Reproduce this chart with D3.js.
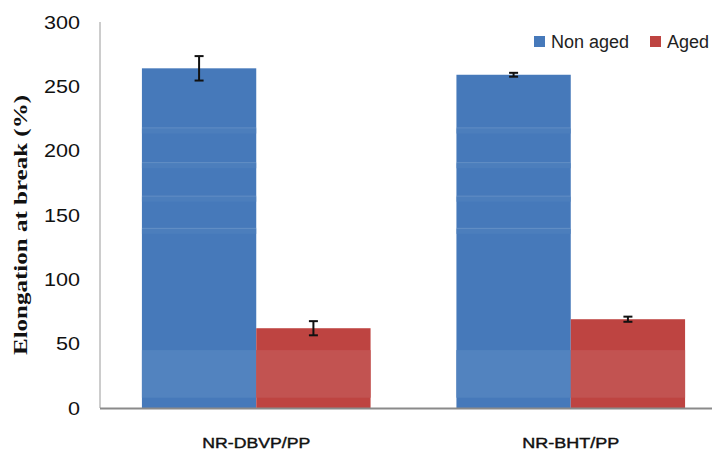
<!DOCTYPE html>
<html lang="en">
<head>
  <meta charset="UTF-8">
  <title>Elongation at break</title>
  <script src="https://d3js.org/d3.v7.min.js"></script>
  <style>
    body { margin: 0; background: #fff; }
    .tick-label { font-family: "Liberation Sans", Arial, sans-serif; font-size: 18px; fill: #111; }
    .legend-label { font-family: "Liberation Sans", Arial, sans-serif; font-size: 18px; fill: #222; }
    .cat-label { font-family: "Liberation Sans", Arial, sans-serif; font-size: 14px; fill: #111; stroke: #111; stroke-width: 0.4; }
    .axis-title { font-family: "Liberation Serif", "Times New Roman", serif; font-size: 18px; font-weight: bold; fill: #111; }
  </style>
</head>
<body>
  <svg width="712" height="454"></svg>

  <script>
    // data
    const samples = ["NR-DBVP/PP", "NR-BHT/PP"];
    const series = ["Non aged", "Aged"];
    const nonAged = [264, 259];
    const nonAgedErr = [9.5, 1.5];
    const aged = [62, 69];
    const agedErr = [5.5, 2];
    const yTicks = [0, 50, 100, 150, 200, 250, 300];

    const colors = {"Non aged": "#4679ba", "Aged": "#be4441"};
    const bandColors = {"Non aged": "#5283bf", "Aged": "#c25351"};

    const rows = [];
    samples.forEach((s, i) => {
      rows.push({sample: s, series: "Non aged", value: nonAged[i], err: nonAgedErr[i]});
      rows.push({sample: s, series: "Aged", value: aged[i], err: agedErr[i]});
    });

    const svg = d3.select("svg");

    const y = d3.scaleLinear().domain([0, 300]).range([408, 22]);

    const x0 = d3.scaleBand()
      .domain(samples)
      .range([100, 727])
      .paddingInner(0.273)
      .paddingOuter(0.1333);

    const x1 = d3.scaleBand()
      .domain(series)
      .range([0, x0.bandwidth()]);

    // bars
    const bars = svg.append("g");
    bars.selectAll("rect.bar")
      .data(rows)
      .join("rect")
      .attr("class", "bar")
      .attr("x", d => x0(d.sample) + x1(d.series))
      .attr("y", d => y(d.value))
      .attr("width", x1.bandwidth())
      .attr("height", d => y(0) - y(d.value))
      .attr("fill", d => colors[d.series]);

    // lighter band near the bottom of every bar
    bars.selectAll("rect.band")
      .data(rows)
      .join("rect")
      .attr("class", "band")
      .attr("x", d => x0(d.sample) + x1(d.series))
      .attr("y", y(45))
      .attr("width", x1.bandwidth())
      .attr("height", y(8) - y(45))
      .attr("fill", d => bandColors[d.series]);

    // faint stripes in the tall bars
    const stripes = [218, 191, 165, 140];
    rows.filter(d => d.series === "Non aged").forEach(d => {
      stripes.forEach(v => {
        bars.append("rect")
          .attr("x", x0(d.sample) + x1(d.series))
          .attr("y", y(v))
          .attr("width", x1.bandwidth())
          .attr("height", 1)
          .attr("fill", "#7ea3cf")
          .attr("opacity", 0.6);
        bars.append("rect")
          .attr("x", x0(d.sample) + x1(d.series))
          .attr("y", y(v) + 1)
          .attr("width", x1.bandwidth())
          .attr("height", 5)
          .attr("fill", "#4f80bd")
          .attr("opacity", 0.7);
      });
    });

    // error bars
    const eb = svg.append("g").attr("stroke", "#111").attr("stroke-width", 2);
    rows.forEach(d => {
      const cx = x0(d.sample) + x1(d.series) + x1.bandwidth() / 2;
      eb.append("line")
        .attr("x1", cx).attr("x2", cx)
        .attr("y1", y(d.value + d.err)).attr("y2", y(d.value - d.err));
      [d.value + d.err, d.value - d.err].forEach(v => {
        eb.append("line")
          .attr("x1", cx - 4.5).attr("x2", cx + 4.5)
          .attr("y1", y(v)).attr("y2", y(v));
      });
    });

    // axes
    svg.append("line")
      .attr("x1", 100).attr("x2", 100)
      .attr("y1", y(300)).attr("y2", y(0))
      .attr("stroke", "#9a9a9a").attr("stroke-width", 1);
    svg.append("line")
      .attr("x1", 100).attr("x2", 712)
      .attr("y1", y(0) + 0.5).attr("y2", y(0) + 0.5)
      .attr("stroke", "#8a8a8a").attr("stroke-width", 2);

    svg.append("g")
      .selectAll("text")
      .data(yTicks)
      .join("text")
      .attr("class", "tick-label")
      .attr("x", 80)
      .attr("y", d => y(d) + 6.5)
      .attr("text-anchor", "end")
      .attr("textLength", d => String(d).length * 12)
      .attr("lengthAdjust", "spacingAndGlyphs")
      .text(d => d);

    const labelWidth = {"NR-DBVP/PP": 108, "NR-BHT/PP": 97};
    svg.append("g")
      .selectAll("text")
      .data(samples)
      .join("text")
      .attr("class", "cat-label")
      .attr("x", d => x0(d) + x0.bandwidth() / 2)
      .attr("y", 448)
      .attr("text-anchor", "middle")
      .attr("textLength", d => labelWidth[d])
      .attr("lengthAdjust", "spacingAndGlyphs")
      .text(d => d);

    svg.append("text")
      .attr("class", "axis-title")
      .attr("transform", "translate(27,225) rotate(-90)")
      .attr("text-anchor", "middle")
      .attr("textLength", 260)
      .attr("lengthAdjust", "spacingAndGlyphs")
      .text("Elongation at break (%)");

    // legend
    const legendX = [534, 650];
    const legend = svg.append("g");
    series.forEach((s, i) => {
      legend.append("rect")
        .attr("x", legendX[i]).attr("y", 36)
        .attr("width", 11).attr("height", 11)
        .attr("fill", colors[s]);
      legend.append("text")
        .attr("class", "legend-label")
        .attr("x", legendX[i] + 17).attr("y", 48)
        .text(s);
    });
  </script>
</body>
</html>
